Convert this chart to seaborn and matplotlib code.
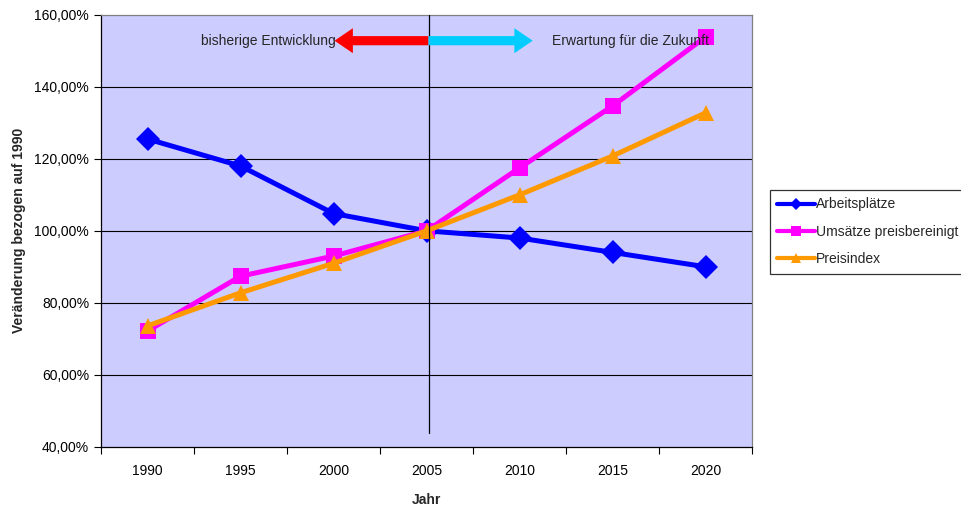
import numpy as np
import pandas as pd
import matplotlib
matplotlib.use("Agg")
import matplotlib.pyplot as plt
from matplotlib.lines import Line2D
from matplotlib.ticker import FuncFormatter, FixedLocator
import seaborn as sns

years = ["1990", "1995", "2000", "2005", "2010", "2015", "2020"]
arbeitsplaetze = [125.5, 118.0, 104.8, 100.0, 98.0, 94.0, 90.0]
umsaetze = [72.2, 87.4, 93.0, 100.0, 117.5, 134.7, 153.9]
preisindex = [73.6, 82.8, 91.0, 100.0, 110.0, 120.8, 132.8]

series_names = ["Arbeitsplätze", "Umsätze preisbereinigt", "Preisindex"]
series_values = [arbeitsplaetze, umsaetze, preisindex]
colors = ["#0000FF", "#FF00FF", "#FF9900"]
markers = ["D", "s", "^"]

rows = []
for name, vals in zip(series_names, series_values):
    for i, (yr, v) in enumerate(zip(years, vals)):
        rows.append({"pos": i, "Jahr": yr, "Wert": v, "Serie": name})
df = pd.DataFrame(rows)

sns.set_theme(style="white")
plt.rcParams["font.family"] = ["Liberation Sans", "DejaVu Sans"]

FS = 10

fig = plt.figure(figsize=(9.62, 5.09), dpi=100)
ax = fig.add_axes([0.105, 0.122, 0.677, 0.849])
ax.set_facecolor("#CCCCFF")

for yv in [60, 80, 100, 120, 140]:
    ax.axhline(yv, color="black", lw=0.8, zorder=1)

sns.lineplot(
    data=df, x="pos", y="Wert", hue="Serie", style="Serie",
    hue_order=series_names, style_order=series_names,
    palette=dict(zip(series_names, colors)),
    markers=dict(zip(series_names, markers)),
    dashes=False, linewidth=3.6, markersize=12, markeredgewidth=0,
    legend=False, ax=ax, zorder=3,
)

ax.set_xlim(-0.5, 6.5)
ax.set_ylim(40, 160)
ax.set_yticks(np.arange(40, 161, 20))
ax.yaxis.set_major_formatter(FuncFormatter(lambda v, p: f"{v:.2f}".replace(".", ",") + "%"))
ax.set_xticks(range(len(years)))
ax.set_xticklabels(years)
ax.xaxis.set_minor_locator(FixedLocator(np.arange(-0.5, 6.6, 1)))
ax.tick_params(axis="x", which="major", length=0, pad=12, labelsize=FS, colors="black")
ax.tick_params(axis="x", which="minor", length=5, width=0.8, color="black", direction="out", bottom=True)
ax.tick_params(axis="y", length=5, width=0.8, color="black", direction="out", left=True, labelsize=FS, colors="black")

ax.set_xlabel("Jahr", fontweight="bold", fontsize=FS, labelpad=11)
ax.set_ylabel("Veränderung bezogen auf 1990", fontweight="bold", fontsize=FS, labelpad=6)

for side in ["left", "bottom"]:
    ax.spines[side].set_color("black")
    ax.spines[side].set_linewidth(0.9)
for side in ["top", "right"]:
    ax.spines[side].set_color("#808080")
    ax.spines[side].set_linewidth(0.9)

# divider between past and forecast
ax.plot([3.02, 3.02], [43.9, 160], color="black", lw=0.9, zorder=4)

arrow_y = 152.8
ax.annotate("", xy=(2.01, arrow_y), xytext=(3.02, arrow_y),
            arrowprops=dict(arrowstyle="simple,head_length=1.1,head_width=1.5,tail_width=0.55",
                            color="#FF0000", lw=0, shrinkA=0, shrinkB=0), zorder=5)
ax.annotate("", xy=(4.14, arrow_y), xytext=(3.02, arrow_y),
            arrowprops=dict(arrowstyle="simple,head_length=1.1,head_width=1.5,tail_width=0.55",
                            color="#00CCFF", lw=0, shrinkA=0, shrinkB=0), zorder=5)
ax.text(0.57, arrow_y, "bisherige Entwicklung", fontsize=FS, va="center", ha="left", zorder=4)
ax.text(4.35, arrow_y, "Erwartung für die Zukunft", fontsize=FS, va="center", ha="left", zorder=4)

handles = [Line2D([], [], color=c, lw=3, marker=m, markersize=6.5, markeredgewidth=0)
           for c, m in zip(colors, markers)]
leg = fig.legend(handles, series_names, loc="upper left", bbox_to_anchor=(0.8, 0.627),
                 frameon=True, fancybox=False, fontsize=FS, handlelength=2.7,
                 handletextpad=0.1, borderpad=0.55, borderaxespad=0, labelspacing=0.95)
leg.get_frame().set_edgecolor("black")
leg.get_frame().set_linewidth(0.9)

fig.savefig("out.png", dpi=100, facecolor="white")
